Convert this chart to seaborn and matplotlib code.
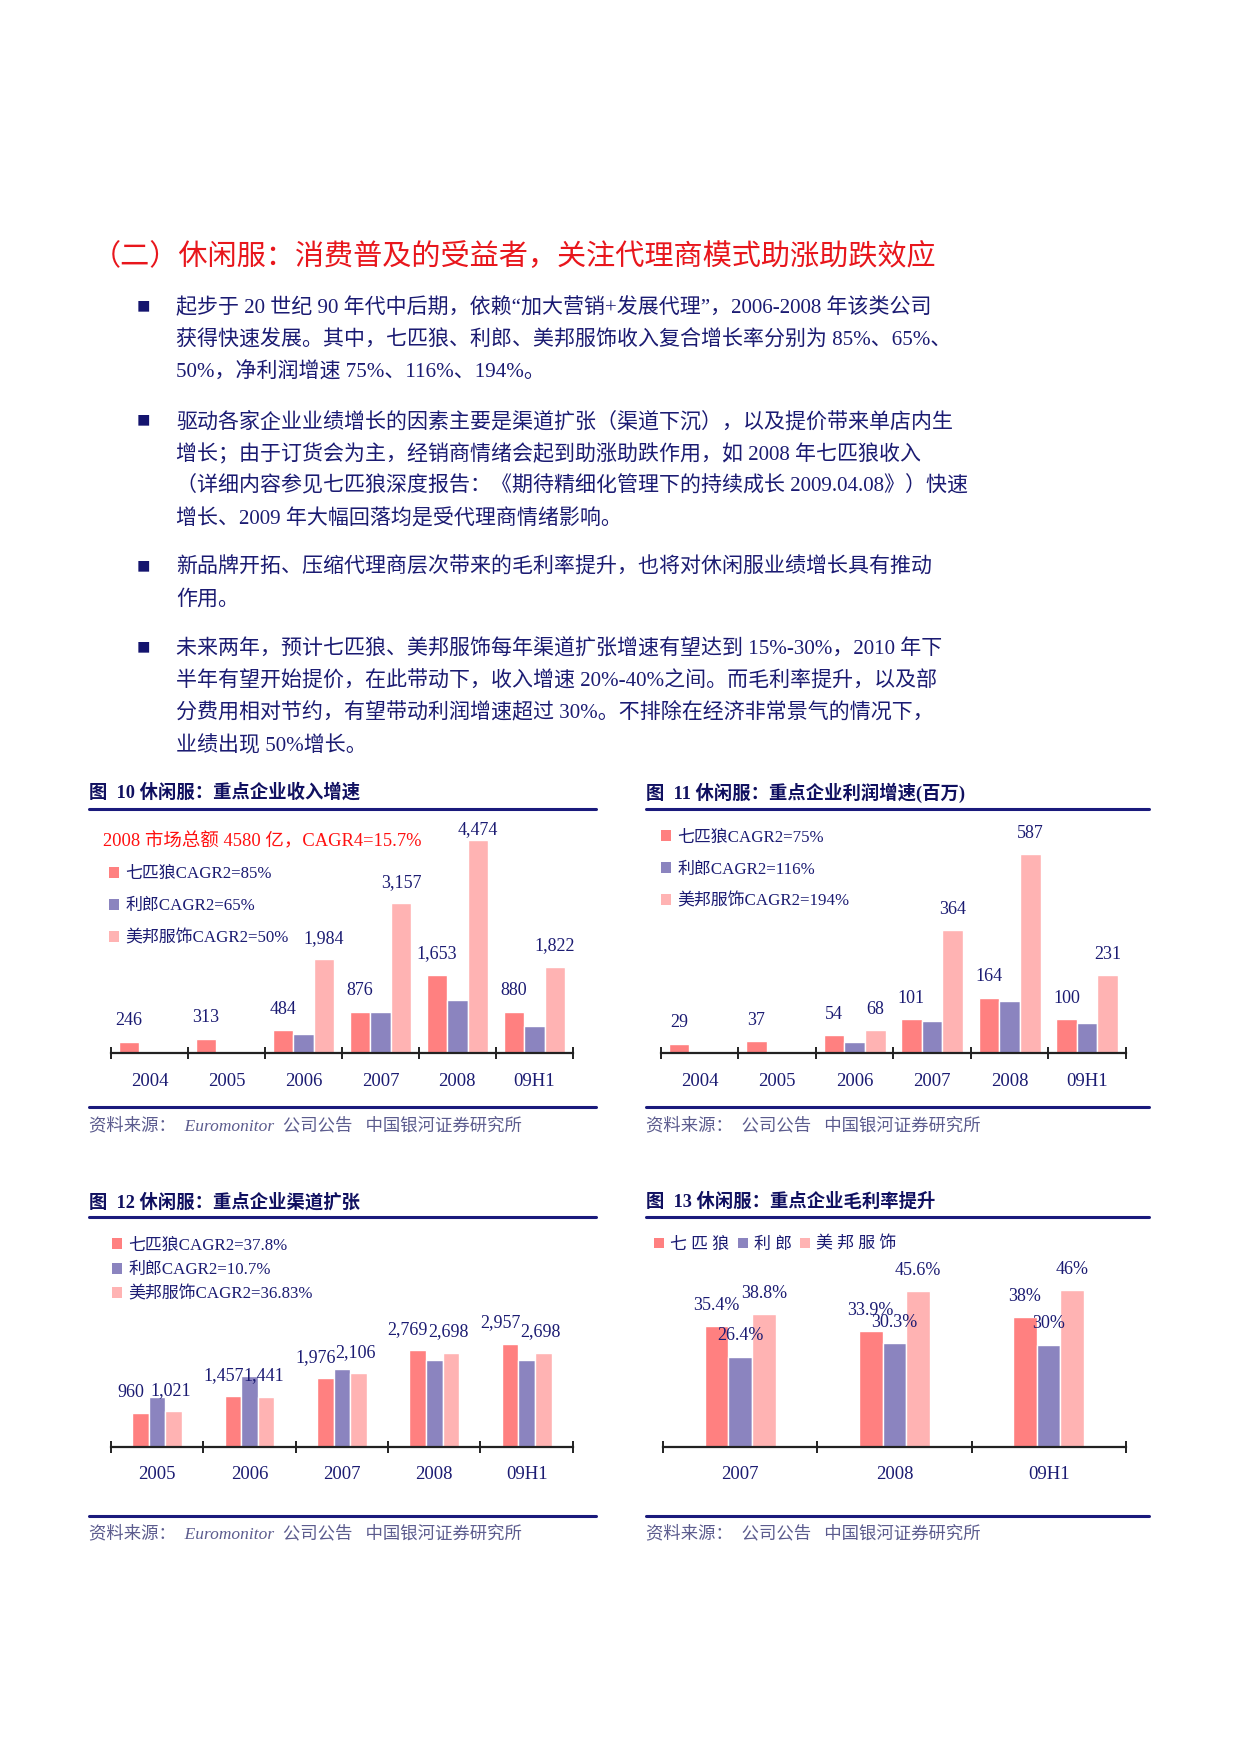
import matplotlib
matplotlib.use('Agg')
import matplotlib.pyplot as plt
from matplotlib.patches import Patch
from matplotlib.lines import Line2D
import seaborn as sns
import pandas as pd
import numpy as np

sns.set_style('white')
plt.rcParams['font.family'] = ['Liberation Serif', 'Noto Sans CJK SC']
plt.rcParams['axes.unicode_minus'] = False

# ---- data ----
brands = ['七匹狼', '利郎', '美邦服饰']
brand_colors = ['#ff8080', '#8b84bf', '#ffb3b3']

rev_years = ['2004', '2005', '2006', '2007', '2008', '09H1']
rev_qpl = [246, 313, 484, 876, 1653, 880]
rev_lilang = [None, None, 415, 870, 1130, 570]
rev_mb = [None, None, 1984, 3157, 4474, 1822]
rev_legend = ['七匹狼CAGR2=85%', '利郎CAGR2=65%', '美邦服饰CAGR2=50%']
rev_note = '2008 市场总额 4580 亿，CAGR4=15.7%'

profit_years = ['2004', '2005', '2006', '2007', '2008', '09H1']
profit_qpl = [29, 37, 54, 101, 164, 100]
profit_lilang = [None, None, 33, 95, 155, 90]
profit_mb = [None, None, 68, 364, 587, 231]
profit_legend = ['七匹狼CAGR2=75%', '利郎CAGR2=116%', '美邦服饰CAGR2=194%']

store_years = ['2005', '2006', '2007', '2008', '09H1']
store_qpl = [960, 1457, 1976, 2769, 2957]
store_lilang = [1430, 2030, 2220, 2490, 2490]
store_mb = [1021, 1441, 2106, 2698, 2698]
store_legend = ['七匹狼CAGR2=37.8%', '利郎CAGR2=10.7%', '美邦服饰CAGR2=36.83%']

margin_years = ['2007', '2008', '09H1']
margin_qpl = [35.4, 33.9, 38.0]
margin_lilang = [26.4, 30.3, 30.0]
margin_mb = [38.8, 45.6, 46.0]

heading = '（二）休闲服：消费普及的受益者，关注代理商模式助涨助跌效应'
paragraphs = [
    ['起步于 20 世纪 90 年代中后期，依赖“加大营销+发展代理”，2006-2008 年该类公司',
     '获得快速发展。其中，七匹狼、利郎、美邦服饰收入复合增长率分别为 85%、65%、',
     '50%，净利润增速 75%、116%、194%。'],
    ['驱动各家企业业绩增长的因素主要是渠道扩张（渠道下沉），以及提价带来单店内生',
     '增长；由于订货会为主，经销商情绪会起到助涨助跌作用，如 2008 年七匹狼收入',
     '（详细内容参见七匹狼深度报告：《期待精细化管理下的持续成长 2009.04.08》）快速',
     '增长、2009 年大幅回落均是受代理商情绪影响。'],
    ['新品牌开拓、压缩代理商层次带来的毛利率提升，也将对休闲服业绩增长具有推动',
     '作用。'],
    ['未来两年，预计七匹狼、美邦服饰每年渠道扩张增速有望达到 15%-30%，2010 年下',
     '半年有望开始提价，在此带动下，收入增速 20%-40%之间。而毛利率提升，以及部',
     '分费用相对节约，有望带动利润增速超过 30%。不排除在经济非常景气的情况下，',
     '业绩出现 50%增长。'],
]
chart_titles = ['图  10 休闲服：重点企业收入增速', '图  11 休闲服：重点企业利润增速(百万)',
                '图  12 休闲服：重点企业渠道扩张', '图  13 休闲服：重点企业毛利率提升']
source_a = '资料来源：  Euromonitor  公司公告   中国银河证券研究所'
source_b = '资料来源：  公司公告   中国银河证券研究所'

W, H = 1241, 1754
K = 0.991
NAVY = '#1b1b72'
LINE = '#1a1a7c'
RED = '#e8161c'


def fx(x):
    return x * K / W


def fy(y):
    return 1 - y * K / H


fig = plt.figure(figsize=(W / 100, H / 100), dpi=100)

# ---- text section ----
fig.text(fx(93), fy(258), heading, color=RED, fontsize=21, va='center', ha='left')
line_y = [[311, 344, 376], [426, 459, 491, 524], [573, 605], [655, 688, 720, 753]]
for para, ys in zip(paragraphs, line_y):
    fig.text(fx(138), fy(ys[0]), '■', color='#14146e', fontsize=16, va='center', ha='left')
    for txt, y in zip(para, ys):
        fig.text(fx(178), fy(y), txt, color=NAVY, fontsize=15.1, va='center', ha='left')


def frame(x0, x1, y_title, y_line, y_bottom, y_source, title, source):
    fig.text(fx(x0), fy(y_title), title, color='#101060', fontsize=13.2,
             weight='bold', va='center', ha='left')
    for yy in (y_line, y_bottom):
        fig.add_artist(Line2D([fx(x0), fx(x1)], [fy(yy), fy(yy)], color=LINE, lw=2.2))
    fig.text(fx(x0), fy(y_source), source, color='#5c5c8e', fontsize=12.5,
             style='italic', va='center', ha='left')


def bar_chart(rect, years, series, width, ymax, labelled, fmt, dx=None):
    left, bottom, right, top = rect
    ax = fig.add_axes([fx(left), fy(bottom), fx(right) - fx(left), fy(top) - fy(bottom)])
    rows = []
    for name, vals in zip(brands, series):
        for yr, v in zip(years, vals):
            if v is not None:
                rows.append((yr, name, v))
    df = pd.DataFrame(rows, columns=['year', 'brand', 'value'])
    sns.barplot(data=df, x='year', y='value', hue='brand', order=years, hue_order=brands,
                palette=brand_colors, width=width, saturation=1, errorbar=None,
                legend=False, ax=ax)
    n = len(years)
    ax.set_xlim(-0.5, n - 0.5)
    ax.set_ylim(0, ymax)
    ax.set_yticks([])
    ax.set_xlabel('')
    ax.set_ylabel('')
    sns.despine(ax=ax, left=True)
    ax.spines['bottom'].set_color('#222222')
    ax.spines['bottom'].set_linewidth(1.6)
    ax.set_xticks(np.arange(n + 1) - 0.5, minor=True)
    ax.tick_params(axis='x', which='major', length=0, labelsize=13.5, labelcolor=NAVY, pad=14)
    ax.tick_params(axis='x', which='minor', bottom=True, length=8, width=1.4,
                   direction='inout', color='#222222')
    ax.patch.set_alpha(0)
    for i, (cont, lab) in enumerate(zip(ax.containers, labelled)):
        if not lab:
            continue
        off = 0 if dx is None else dx[i]
        for bar in cont:
            h = bar.get_height()
            if np.isnan(h):
                continue
            # the tallest bar's label sits tighter so it stays under the title rule
            lift = 8 if h > 0.9 * ymax else 15
            ax.annotate(fmt(h), (bar.get_x() + bar.get_width() / 2, h),
                        xytext=(off, lift), textcoords='offset points',
                        ha='center', va='center', fontsize=13, color=NAVY,
                        annotation_clip=False)
    return ax


def add_legend(ax, labels, x, y, ncol=1, spacing=0.75, colspacing=0.6):
    handles = [Patch(facecolor=c, edgecolor='none') for c in brand_colors]
    ax.legend(handles, labels, loc='upper left', bbox_to_anchor=(fx(x), fy(y)),
              bbox_transform=fig.transFigure, frameon=False, ncol=ncol,
              handlelength=0.6, handleheight=0.6, handletextpad=0.35,
              labelspacing=spacing, columnspacing=colspacing, borderpad=0,
              borderaxespad=0, fontsize=12.2, labelcolor=NAVY)


# ---- chart 10 ----
frame(90, 601, 800, 816, 1117, 1136, chart_titles[0], source_a)
ax10 = bar_chart((112, 1063, 578, 828), rev_years, [rev_qpl, rev_lilang, rev_mb], 0.8, 4890,
                 [True, False, True], lambda v: f'{v:,.0f}')
ax10.text(fx(104), fy(849), rev_note, transform=fig.transFigure, color='#ff1010',
          fontsize=13.3, va='center', ha='left')
add_legend(ax10, rev_legend, 110, 874, spacing=0.95)

# ---- chart 11 ----
frame(652, 1159, 800, 816, 1117, 1136, chart_titles[1], source_b)
ax11 = bar_chart((667, 1063, 1136, 828), profit_years, [profit_qpl, profit_lilang, profit_mb],
                 0.8, 686, [True, False, True], lambda v: f'{v:.0f}')
add_legend(ax11, profit_legend, 667, 837, spacing=0.95)

# ---- chart 12 ----
frame(90, 601, 1213, 1228, 1530, 1548, chart_titles[2], source_a)
ax12 = bar_chart((112, 1460, 578, 1240), store_years, [store_qpl, store_lilang, store_mb],
                 0.54, 6255, [True, False, True], lambda v: f'{v:,.0f}', dx=[-7, 0, -2])
add_legend(ax12, store_legend, 113, 1249, spacing=0.5)

# ---- chart 13 ----
frame(652, 1159, 1213, 1228, 1530, 1548, chart_titles[3], source_b)
ax13 = bar_chart((669, 1460, 1136, 1240), margin_years, [margin_qpl, margin_lilang, margin_mb],
                 0.46, 63.9, [True, True, True], lambda v: f'{v:g}%')
add_legend(ax13, [' '.join(b) for b in brands], 660, 1248, ncol=3, colspacing=0.5)

fig.savefig('out.png', dpi=100)
